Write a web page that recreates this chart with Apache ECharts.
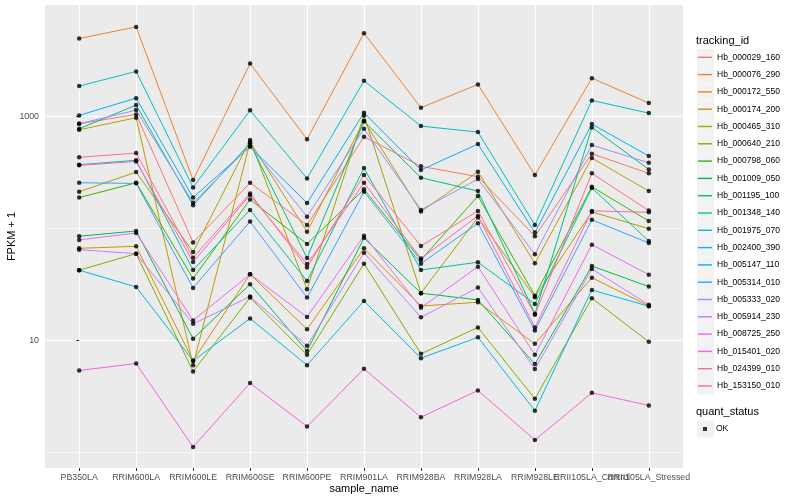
<!DOCTYPE html>
<html><head><meta charset="utf-8">
<script src="https://cdn.jsdelivr.net/npm/echarts@6/dist/echarts.min.js"></script>
<style>html,body{margin:0;padding:0;background:#fff}#c{width:800px;height:500px}</style>
</head><body><div id="c"></div>
<script>
const categories = ['PB350LA','RRIM600LA','RRIM600LE','RRIM600SE','RRIM600PE','RRIM901LA','RRIM928BA','RRIM928LA','RRIM928LE','RRII105LA_Control','RRII105LA_Stressed'];
const seriesNames = ['Hb_000029_160','Hb_000076_290','Hb_000172_550','Hb_000174_200','Hb_000465_310','Hb_000640_210','Hb_000798_060','Hb_001009_050','Hb_001195_100','Hb_001348_140','Hb_001975_070','Hb_002400_390','Hb_005147_110','Hb_005314_010','Hb_005333_020','Hb_005914_230','Hb_008725_250','Hb_015401_020','Hb_024399_010','Hb_153150_010'];
const seriesColors = ['#F8766D','#EA8331','#D89000','#C09B00','#A3A500','#7CAE00','#39B600','#00BB4E','#00BF7D','#00C1A3','#00BFC4','#00BAE0','#00B0F6','#35A2FF','#9590FF','#C77CFF','#E76BF3','#FA62DB','#FF62BC','#FF6C91'];

const v000029_160 = [859, 1042, 74.6, 255, 107, 658, 358, 289, 84.9, 464, 310];
const v000076_290 = [4966, 6310, 270, 2972, 624, 5546, 1194, 1932, 299, 2198, 1315];
const v000172_550 = [66.2, 69.0, 6.53, 38.8, 12.5, 66.2, 20.2, 21.8, 9.27, 36.2, 20.2];
const v000174_200 = [759, 972, 5.98, 590, 93.3, 914, 141, 320, 48.7, 424, 215];
const v000465_310 = [212, 318, 61.4, 614, 28.5, 1021, 26.3, 125, 24.2, 140, 99.1];
const v000640_210 = [42.2, 59.3, 5.25, 24.0, 7.39, 48.3, 7.55, 13.0, 2.99, 23.7, 9.66];
const v000798_060 = [188, 255, 35.5, 181, 72.4, 223, 52.1, 194, 25.0, 235, 116];
const v001009_050 = [84.9, 94.6, 10.3, 31.6, 8.02, 81.9, 26.3, 22.9, 6.11, 46.0, 30.1];
const v001195_100 = [775, 1262, 161, 574, 54.3, 902, 283, 215, 17.2, 797, 336];
const v001348_140 = [370, 405, 42.4, 146, 33.8, 345, 42.4, 49.7, 21.1, 229, 77.0];
const v001975_070 = [1865, 2523, 232, 1132, 279, 2080, 819, 724, 107, 1389, 1070];
const v002400_390 = [42.2, 29.9, 6.53, 15.6, 5.98, 22.4, 6.90, 10.6, 2.34, 28.1, 20.1];
const v005147_110 = [1021, 1456, 188, 535, 168, 1077, 332, 566, 91.7, 854, 442];
const v005314_010 = [255, 252, 29.3, 115, 24.0, 212, 48.3, 111, 12.2, 119, 73.9];
const v005333_020 = [859, 1138, 169, 546, 127, 775, 146, 275, 58.6, 554, 385];
const v005914_230 = [64.4, 59.3, 14.0, 24.5, 8.89, 60.5, 16.0, 29.5, 5.51, 43.3, 20.7];
const v008725_250 = [78.7, 90.8, 15.0, 38.8, 16.1, 85.9, 19.5, 45.4, 7.39, 71.4, 38.5];
const v015401_020 = [5.36, 6.18, 1.11, 4.13, 1.69, 5.54, 2.05, 3.55, 1.28, 3.38, 2.61];
const v024399_010 = [365, 396, 50.0, 198, 48.0, 255, 53.6, 129, 13.0, 143, 139];
const v153150_010 = [431, 470, 54.6, 205, 44.5, 299, 69.5, 143, 16.9, 310, 144];

const seriesValues = [v000029_160, v000076_290, v000172_550, v000174_200, v000465_310, v000640_210, v000798_060, v001009_050, v001195_100, v001348_140, v001975_070, v002400_390, v005147_110, v005314_010, v005333_020, v005914_230, v008725_250, v015401_020, v024399_010, v153150_010];

const yMajorTicks = [10, 1000];
const yMinorTicks = [1, 100];
const yMin = 0.72, yMax = 9900;

const catIdx = categories.map((c, i) => i);
const evenIdx = catIdx.filter(i => i % 2 === 0);
const oddIdx = catIdx.filter(i => i % 2 === 1);
const FONT = 'Liberation Sans';

const lineSeries = seriesNames.map((name, k) => ({
  name: name, type: 'line', symbol: 'none', color: seriesColors[k],
  lineStyle: { width: 1, color: seriesColors[k] },
  data: seriesValues[k].map((v, i) => [i, v]), z: 2
}));
const pointData = [];
seriesValues.forEach(vals => vals.forEach((v, i) => pointData.push([i, v])));
const pointSeries = { name: 'OK', type: 'scatter', symbol: 'circle', symbolSize: 4.5, color: '#000', itemStyle: { color: '#000' }, data: pointData, z: 3 };

const keyRects = seriesNames.map((n, i) => ({ type: 'rect', shape: { x: 697, y: 48.9 + i * 17.3, width: 17, height: 17 }, style: { fill: '#F2F2F2' }, z: -1 }));

const labelStyle = { formatter: v => categories[Math.round(v)], color: '#4D4D4D', fontSize: 8.8, margin: 5, hideOverlap: false, showMinLabel: true, showMaxLabel: true, fontFamily: FONT };

const chart = echarts.init(document.getElementById('c'), null, { renderer: 'canvas' });
chart.setOption({
  backgroundColor: '#fff',
  animation: false,
  textStyle: { fontFamily: FONT },
  grid: { left: 45, right: 117, top: 5, bottom: 32, show: true, backgroundColor: '#EBEBEB', borderWidth: 0, containLabel: false, outerBoundsMode: 'none' },
  xAxis: [{
    type: 'value', min: -0.6, max: 10.6,
    axisLine: { show: false },
    axisTick: { show: true, customValues: catIdx, length: 3, lineStyle: { color: '#333', width: 1 } },
    axisLabel: Object.assign({ customValues: evenIdx }, labelStyle),
    splitLine: { show: true, lineStyle: { color: '#fff', width: 1.1 } },
    name: 'sample_name', nameLocation: 'middle', nameGap: 15, nameMoveOverlap: false,
    nameTextStyle: { fontSize: 11, color: '#000', fontFamily: FONT }
  }, {
    type: 'value', min: -0.6, max: 10.6, position: 'bottom',
    axisLine: { show: false },
    axisTick: { show: false, customValues: oddIdx },
    axisLabel: Object.assign({ customValues: oddIdx }, labelStyle),
    splitLine: { show: false }
  }],
  yAxis: [{
    type: 'log', logBase: 10, min: yMin, max: yMax,
    axisLine: { show: false },
    axisTick: { show: true, customValues: yMajorTicks, length: 3, lineStyle: { color: '#333', width: 1 } },
    axisLabel: { customValues: yMajorTicks, formatter: v => String(Math.round(v)), color: '#4D4D4D', fontSize: 8.8, margin: 6, fontFamily: FONT },
    splitLine: { show: true, lineStyle: { color: '#fff', width: 1.1 } },
    name: 'FPKM + 1', nameLocation: 'middle', nameGap: 28, nameMoveOverlap: false,
    nameTextStyle: { fontSize: 11, color: '#000', fontFamily: FONT }
  }, {
    type: 'log', logBase: 10, min: yMin, max: yMax, position: 'left',
    axisLine: { show: false },
    axisTick: { show: false, customValues: yMinorTicks },
    axisLabel: { show: false, customValues: yMinorTicks },
    splitLine: { show: true, lineStyle: { color: '#fff', width: 0.55 } }
  }],
  legend: [{
    data: seriesNames, orient: 'vertical', left: 698, top: 48.65, padding: 0,
    icon: 'rect', itemWidth: 14, itemHeight: 1.4, itemGap: 0, selectedMode: false,
    textStyle: { fontSize: 8.5, color: '#000', lineHeight: 17.3, height: 17.3, fontFamily: FONT }
  }, {
    data: ['OK'], orient: 'vertical', left: 703, top: 420.35, padding: 0,
    icon: 'rect', itemWidth: 4, itemHeight: 4, itemGap: 0, selectedMode: false,
    textStyle: { fontSize: 8.5, color: '#000', lineHeight: 17.3, height: 17.3, padding: [0, 0, 0, 4], fontFamily: FONT }
  }],
  graphic: [
    ...keyRects,
    { type: 'rect', shape: { x: 697, y: 420.6, width: 17, height: 17 }, style: { fill: '#F2F2F2' }, z: -1 },
    { type: 'text', x: 696, y: 40.7, style: { text: 'tracking_id', fontSize: 11, fill: '#000', fontFamily: FONT, verticalAlign: 'middle' } },
    { type: 'text', x: 696, y: 412.3, style: { text: 'quant_status', fontSize: 11, fill: '#000', fontFamily: FONT, verticalAlign: 'middle' } }
  ],
  series: [...lineSeries, pointSeries]
});
</script></body></html>
